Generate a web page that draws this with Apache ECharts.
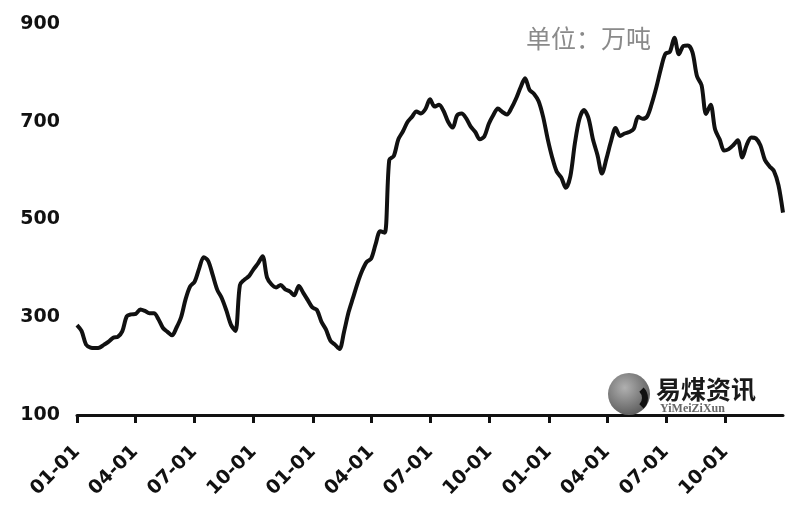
<!DOCTYPE html>
<html>
<head>
<meta charset="utf-8">
<script src="https://cdn.jsdelivr.net/npm/echarts@6/dist/echarts.min.js"></script>
<style>html,body{margin:0;padding:0;background:#fff}#c{width:803px;height:510px}</style>
</head>
<body>
<div id="c"></div>
<script>
// weekly series start (first week of year 1)
const startYear = 2017;
const years = [2017, 2018, 2019];
const tickMonths = ['01', '04', '07', '10'];
const tickLabels = ['01-01', '04-01', '07-01', '10-01'];
const yTicks = [100, 300, 500, 700, 900];
const unitText = '单位：万吨';
const logoText = '易煤资讯';
const logoSub = 'YiMeiZiXun';
// weekly inventory values (万吨)
const weekValues = [
  284, 272, 244, 238, 237, 238, 244, 250, 258, 260,
  271, 302, 306, 307, 316, 313, 308, 308, 296, 278,
  270, 263, 279, 300, 337, 363, 373, 400, 423, 415,
  386, 356, 339, 314, 285, 272, 366, 377, 384, 398,
  410, 425, 381, 367, 361, 366, 357, 353, 345, 364,
  350, 335, 320, 315, 291, 275, 252, 244, 235, 270,
  310, 340, 370, 395, 413, 420, 450, 476, 473, 622,
  630, 664, 680, 699, 710, 721, 717, 726, 746, 731,
  735, 722, 700, 688, 713, 717, 707, 690, 679, 664,
  670, 696, 714, 727, 720, 715, 728, 747, 770, 789,
  765, 757, 742, 710, 665, 627, 598, 586, 565, 588,
  655, 705, 724, 708, 664, 632, 594, 625, 660, 687,
  671, 676, 679, 685, 710, 706, 711, 737, 770, 808,
  839, 843, 872, 838, 855, 856, 842, 793, 775, 716,
  735, 684, 664, 641, 644, 652, 662, 627, 653, 668,
  666, 652, 622, 609, 599, 570, 514
];

const DAY = 86400000;
const start = Date.UTC(startYear, 0, 1);
// x = days since start of year 1
const seriesData = weekValues.map((v, i) => [i * 7, v]);
const tickDays = [];
const tickText = {};
years.forEach(y => tickMonths.forEach((m, k) => {
  const d = Math.round((Date.UTC(y, Number(m) - 1, 1) - start) / DAY);
  tickDays.push(d);
  tickText[d] = tickLabels[k];
}));

const chart = echarts.init(document.getElementById('c'), null, {renderer: 'canvas'});
chart.setOption({
  animation: false,
  backgroundColor: '#ffffff',
  grid: {left: 77, right: 20, top: 24, bottom: 95, containLabel: false},
  xAxis: {
    type: 'value',
    min: 0,
    max: (weekValues.length - 1) * 7,
    axisLine: {lineStyle: {color: '#111', width: 3}},
    axisTick: {show: true, customValues: tickDays, length: 8, lineStyle: {color: '#111', width: 3}},
    axisLabel: {
      customValues: tickDays,
      rotate: 45,
      formatter: v => tickText[Math.round(v)] || '',
      fontSize: 19,
      fontWeight: 'bold',
      color: '#111',
      fontFamily: 'DejaVu Sans',
      margin: 34
    },
    splitLine: {show: false}
  },
  yAxis: {
    type: 'value',
    min: yTicks[0],
    max: yTicks[yTicks.length - 1],
    interval: 200,
    axisLine: {show: false},
    axisTick: {show: false},
    splitLine: {show: false},
    axisLabel: {fontSize: 19, fontWeight: 'bold', color: '#111', fontFamily: 'DejaVu Sans', margin: 17}
  },
  series: [{
    type: 'line',
    data: seriesData,
    showSymbol: false,
    smooth: 0.3,
    lineStyle: {color: '#111', width: 4},
    z: 3
  }],
  graphic: [
    {type: 'text', left: 526, top: 26, style: {text: unitText, fontSize: 25, fill: '#8a8a8a', fontFamily: 'Noto Sans CJK SC'}},
    {type: 'circle', shape: {cx: 629, cy: 394, r: 21}, z: 1,
      style: {fill: new echarts.graphic.RadialGradient(0.4, 0.35, 0.7, [{offset: 0, color: '#b0b0b0'}, {offset: 1, color: '#5a5a5a'}])}},
    {type: 'arc', shape: {cx: 633, cy: 398, r: 12, startAngle: Math.PI * 0.25, endAngle: Math.PI * 1.75, clockwise: false}, z: 2,
      style: {stroke: '#111', lineWidth: 6, fill: null}},
    {type: 'text', left: 656, top: 377, z: 2, style: {text: logoText, fontSize: 25, fontWeight: 'bold', fill: '#1a1a1a', fontFamily: 'Noto Sans CJK SC'}},
    {type: 'text', left: 660, top: 403, z: 0, style: {text: logoSub, fontSize: 12, fontWeight: 'bold', fill: '#666', fontFamily: 'Liberation Serif'}}
  ]
});
</script>
</body>
</html>
